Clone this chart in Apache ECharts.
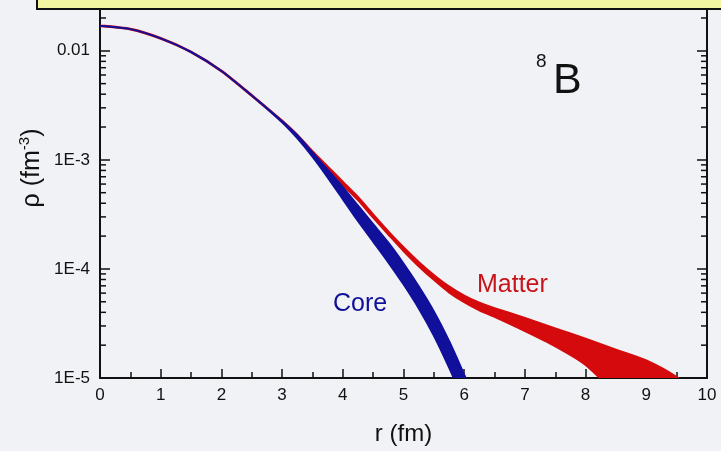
<!DOCTYPE html>
<html><head><meta charset="utf-8">
<script src="https://cdn.jsdelivr.net/npm/echarts@6/dist/echarts.min.js"></script>
<style>html,body{margin:0;padding:0;background:#f1f2f5;}#c{width:721px;height:451px;}</style>
</head><body><div id="c"></div>
<script>
// r (fm)
const rCore   = [0, 0.5, 1, 1.5, 2, 2.5, 3, 3.25, 3.5, 3.75, 4, 4.25, 4.5, 4.75, 5, 5.25, 5.5, 5.75, 6, 6.25];
const coreUpper = [0.0170, 0.0158, 0.0130, 0.00975, 0.00653, 0.00389, 0.00226, 0.00168, 0.00117, 8.13e-4, 5.62e-4, 3.80e-4, 2.57e-4, 1.74e-4, 1.12e-4, 6.92e-5, 4.07e-5, 2.19e-5, 1.07e-5, 5.0e-6];
const coreLower = [0.0170, 0.0158, 0.0130, 0.00975, 0.00653, 0.00389, 0.00221, 0.00158, 0.00107, 6.92e-4, 4.37e-4, 2.75e-4, 1.78e-4, 1.15e-4, 7.24e-5, 4.37e-5, 2.45e-5, 1.25e-5, 6.0e-6, 2.8e-6];
const rMatter = [0, 0.5, 1, 1.5, 2, 2.5, 3, 3.25, 3.5, 3.75, 4, 4.25, 4.5, 4.75, 5, 5.25, 5.5, 5.75, 6, 6.25, 6.5, 7, 7.5, 8, 8.5, 9, 9.5, 9.75];
const matterUpper = [0.0171, 0.0159, 0.0131, 0.00982, 0.00660, 0.00394, 0.00229, 0.00170, 0.00120, 8.71e-4, 6.31e-4, 4.57e-4, 3.16e-4, 2.21e-4, 1.58e-4, 1.16e-4, 8.81e-5, 6.92e-5, 5.69e-5, 4.90e-5, 4.37e-5, 3.55e-5, 2.85e-5, 2.29e-5, 1.82e-5, 1.45e-5, 1.02e-5, 7.59e-6];
const matterLower = [0.0169, 0.0157, 0.0129, 0.00970, 0.00648, 0.00385, 0.00223, 0.00162, 0.00112, 8.13e-4, 5.89e-4, 4.27e-4, 2.95e-4, 2.07e-4, 1.46e-4, 1.06e-4, 7.94e-5, 6.10e-5, 4.95e-5, 4.17e-5, 3.63e-5, 2.69e-5, 1.95e-5, 1.32e-5, 7.08e-6, 3.55e-6, 1.58e-6, 1.0e-6];
const yTickValues = [1e-5, 1e-4, 1e-3, 1e-2];
const yTickLabels = ['1E-5', '1E-4', '1E-3', '0.01'];
const xTickLabels = ['0','1','2','3','4','5','6','7','8','9','10'];
const minorY = [];
[-5, -4, -3, -2].forEach(d => { for (let k = 2; k <= 9; k++) { const v = k * Math.pow(10, d); if (v <= 0.025) minorY.push(v); } });

const FONT = 'Liberation Sans, Arial, Helvetica, sans-serif';
const BLUE = '#10109a';
const RED = '#d40a0c';

function bandSeries(xs, lo, hi, color, z) {
  return {
    type: 'custom', silent: true, z: z,
    data: [[xs[0], lo[0], hi[0]]],
    renderItem: function (params, api) {
      const top = xs.map((x, i) => api.coord([x, hi[i]]));
      const bot = xs.map((x, i) => api.coord([x, lo[i]])).reverse();
      const cs = params.coordSys;
      return {
        type: 'group',
        clipPath: { type: 'rect', shape: { x: cs.x, y: cs.y, width: cs.width, height: cs.height } },
        children: [{
          type: 'polygon',
          shape: { points: top.concat(bot), smooth: 0.25 },
          style: { fill: color, stroke: color, lineWidth: 2, lineJoin: 'round' }
        }]
      };
    }
  };
}

function fmtY(v) {
  for (let i = 0; i < yTickValues.length; i++) {
    if (Math.abs(Math.log10(v) - Math.log10(yTickValues[i])) < 1e-6) return yTickLabels[i];
  }
  return '';
}

const chart = echarts.init(document.getElementById('c'), null, { renderer: 'canvas' });
const option = {
  animation: false,
  backgroundColor: '#f1f2f5',
  grid: { left: 100, right: 14, top: 7.4, bottom: 71 },
  xAxis: {
    type: 'value', min: 0, max: 10, interval: 1,
    axisLine: { lineStyle: { color: '#111', width: 2 } },
    axisTick: { inside: true, length: 9, lineStyle: { color: '#111', width: 1.5 } },
    minorTick: { show: true, splitNumber: 2, length: 6, lineStyle: { color: '#111', width: 1.5 } },
    splitLine: { show: false },
    axisLabel: { color: '#111', fontSize: 17, fontFamily: FONT, margin: 9, formatter: v => xTickLabels[Math.round(v)] },
    name: 'r (fm)', nameLocation: 'middle', nameGap: 44,
    nameTextStyle: { color: '#111', fontSize: 24, fontFamily: FONT }
  },
  yAxis: [{
    type: 'log', min: 1e-5, max: 0.025, interval: 1, logBase: 10,
    axisLine: { show: true, lineStyle: { color: '#111', width: 2 } },
    axisTick: { inside: true, length: 10, lineStyle: { color: '#111', width: 1.5 } },
    splitLine: { show: false },
    axisLabel: { color: '#111', fontSize: 17, fontFamily: FONT, margin: 10, formatter: fmtY, showMaxLabel: false }
  }, {
    type: 'log', min: 1e-5, max: 0.025, interval: 1, logBase: 10, position: 'right',
    axisLine: { show: true, lineStyle: { color: '#111', width: 2 } },
    axisTick: { inside: true, length: 10, lineStyle: { color: '#111', width: 1.5 } },
    splitLine: { show: false }, axisLabel: { show: false }
  }],
  series: [
    bandSeries(rMatter, matterLower, matterUpper, RED, 2),
    bandSeries(rCore, coreLower, coreUpper, BLUE, 3),
    {
      type: 'custom', silent: true, z: 5, clip: false,
      data: minorY.map(v => [0, v]).concat(minorY.map(v => [10, v])),
      renderItem: function (params, api) {
        const p = api.coord([api.value(0), api.value(1)]);
        const dir = api.value(0) === 0 ? 1 : -1;
        return { type: 'line', shape: { x1: p[0], y1: p[1], x2: p[0] + dir * 6, y2: p[1] },
                 style: { stroke: '#111', lineWidth: 1.5 } };
      }
    }
  ],
  graphic: [
    { type: 'rect', z: 100, shape: { x: 37, y: -4, width: 700, height: 13 },
      style: { fill: '#f4f7a2', stroke: '#111', lineWidth: 2 } },
    { type: 'text', z: 50, x: 31, y: 168, rotation: Math.PI / 2,
      style: { text: '{a|ρ (fm}{s|-3}{a|)}', align: 'center', verticalAlign: 'middle', fill: '#111',
        rich: { a: { fontSize: 25, fontFamily: FONT, fill: '#111', lineHeight: 28, verticalAlign: 'bottom' },
                s: { fontSize: 15, fontFamily: FONT, fill: '#111', lineHeight: 15, verticalAlign: 'top' } } } },
    { type: 'text', z: 50, left: 536, top: 52, style: { text: '8', fontSize: 19, fontFamily: FONT, fill: '#111' } },
    { type: 'text', z: 50, left: 553, top: 60, style: { text: 'B', fontSize: 43, fontFamily: FONT, fill: '#111' } },
    { type: 'text', z: 50, left: 333, top: 292, style: { text: 'Core', fontSize: 25, fontFamily: FONT, fill: BLUE } },
    { type: 'text', z: 50, left: 477, top: 273, style: { text: 'Matter', fontSize: 25, fontFamily: FONT, fill: '#c8141a' } }
  ]
};
chart.setOption(option);
</script></body></html>
